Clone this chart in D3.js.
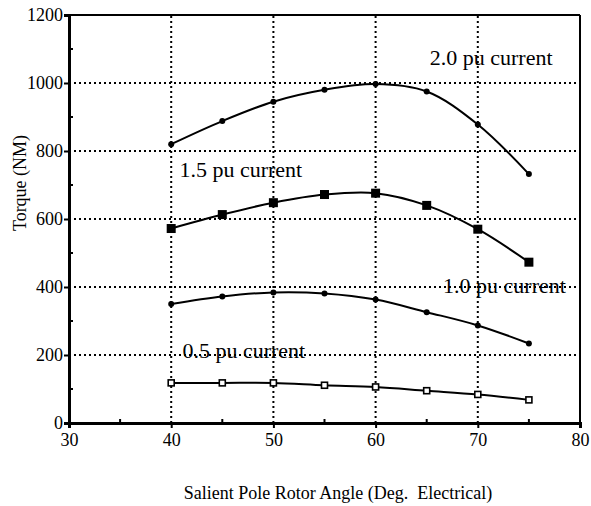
<!DOCTYPE html>
<html>
<head>
<meta charset="utf-8">
<script src="https://cdn.jsdelivr.net/npm/d3@7"></script>
<style>
  body { margin: 0; background: #fff; }
</style>
</head>
<body>
<div id="chart"></div>
<script>
// Data
const angles = [40, 45, 50, 55, 60, 65, 70, 75];
const torque20 = [820, 888, 945, 980, 997, 975, 878, 732];
const torque15 = [572, 613, 648, 672, 676, 640, 570, 473];
const torque10 = [350, 372, 384, 381, 363, 326, 287, 234];
const torque05 = [118, 118, 118, 111, 106, 95, 84, 68];
const xTicks = [30, 40, 50, 60, 70, 80];
const yTicks = [0, 200, 400, 600, 800, 1000, 1200];

const series = [
    { name: "2.0 pu current", values: torque20, marker: "dot" },
    { name: "1.5 pu current", values: torque15, marker: "square" },
    { name: "1.0 pu current", values: torque10, marker: "dot" },
    { name: "0.5 pu current", values: torque05, marker: "open" }
];

const serif = "'Liberation Serif', 'Times New Roman', serif";
const width = 591, height = 506;
const margin = { top: 15, right: 11, bottom: 83, left: 69 };

const svg = d3.select("#chart")
    .append("svg")
    .attr("width", width)
    .attr("height", height)
    .attr("font-family", serif);

const x = d3.scaleLinear().domain([30, 80]).range([margin.left, width - margin.right]);
const y = d3.scaleLinear().domain([0, 1200]).range([height - margin.bottom, margin.top]);

// Dotted grid
svg.append("g")
    .selectAll("line")
    .data(xTicks.slice(1, -1))
    .join("line")
    .attr("x1", d => x(d)).attr("x2", d => x(d))
    .attr("y1", y(0)).attr("y2", y(1200))
    .attr("stroke", "#000").attr("stroke-width", 2)
    .attr("stroke-dasharray", "2,3");

svg.append("g")
    .selectAll("line")
    .data(yTicks.slice(1, -1))
    .join("line")
    .attr("x1", x(30)).attr("x2", x(80))
    .attr("y1", d => y(d)).attr("y2", d => y(d))
    .attr("stroke", "#000").attr("stroke-width", 2)
    .attr("stroke-dasharray", "2,3");

// Frame
svg.append("line") // top
    .attr("x1", x(30)).attr("x2", x(80)).attr("y1", y(1200)).attr("y2", y(1200))
    .attr("stroke", "#000").attr("stroke-width", 2);
svg.append("line") // right
    .attr("x1", x(80)).attr("x2", x(80)).attr("y1", y(1200)).attr("y2", y(0))
    .attr("stroke", "#000").attr("stroke-width", 2);

// Axes
const xAxis = svg.append("g")
    .attr("transform", `translate(0,${y(0)})`)
    .call(d3.axisBottom(x).tickValues(xTicks).tickSize(5).tickPadding(5).tickFormat(d3.format("d")));
const yAxis = svg.append("g")
    .attr("transform", `translate(${x(30)},0)`)
    .call(d3.axisLeft(y).tickValues(yTicks).tickSize(5).tickPadding(1).tickFormat(d3.format("d")));

[xAxis, yAxis].forEach(g => {
    g.attr("font-family", serif).attr("font-size", 18);
    g.select(".domain").attr("stroke-width", 3);
    g.selectAll(".tick line").attr("stroke-width", 2);
    g.selectAll("text").attr("fill", "#000");
});

// Minor ticks pointing inward
svg.append("g")
    .selectAll("line")
    .data(d3.range(35, 80, 10))
    .join("line")
    .attr("x1", d => x(d)).attr("x2", d => x(d))
    .attr("y1", y(0)).attr("y2", y(0) - 4)
    .attr("stroke", "#000").attr("stroke-width", 2);
svg.append("g")
    .selectAll("line")
    .data(d3.range(100, 1200, 200))
    .join("line")
    .attr("x1", x(30)).attr("x2", x(30) + 4)
    .attr("y1", d => y(d)).attr("y2", d => y(d))
    .attr("stroke", "#000").attr("stroke-width", 2);

// Lines
const line = d3.line()
    .x((d, i) => x(angles[i]))
    .y(d => y(d))
    .curve(d3.curveCatmullRom.alpha(0.5));

series.forEach(s => {
    svg.append("path")
        .datum(s.values)
        .attr("fill", "none")
        .attr("stroke", "#000")
        .attr("stroke-width", 2)
        .attr("d", line);

    const g = svg.append("g");
    if (s.marker === "dot") {
        g.selectAll("circle")
            .data(s.values)
            .join("circle")
            .attr("cx", (d, i) => x(angles[i]))
            .attr("cy", d => y(d))
            .attr("r", 3)
            .attr("fill", "#000");
    } else if (s.marker === "square") {
        g.selectAll("rect")
            .data(s.values)
            .join("rect")
            .attr("x", (d, i) => x(angles[i]) - 4.5)
            .attr("y", d => y(d) - 4.5)
            .attr("width", 9).attr("height", 9)
            .attr("fill", "#000");
    } else {
        g.selectAll("rect")
            .data(s.values)
            .join("rect")
            .attr("x", (d, i) => x(angles[i]) - 3)
            .attr("y", d => y(d) - 3)
            .attr("width", 6).attr("height", 6)
            .attr("fill", "#fff")
            .attr("stroke", "#000")
            .attr("stroke-width", 1.6);
    }
});

// Series labels (baseline positions in data units)
const labelPos = [
    { text: "2.0 pu current", lx: 65.3, ly: 1053 },
    { text: "1.5 pu current", lx: 40.8, ly: 724 },
    { text: "1.0 pu current", lx: 66.6, ly: 382 },
    { text: "0.5 pu current", lx: 41.1, ly: 191 }
];
svg.append("g")
    .selectAll("text")
    .data(labelPos)
    .join("text")
    .attr("x", d => x(d.lx))
    .attr("y", d => y(d.ly))
    .attr("font-size", 22)
    .text(d => d.text);

// Axis titles
svg.append("text")
    .attr("transform", `translate(26,183) rotate(-90)`)
    .attr("text-anchor", "middle")
    .attr("font-size", 18)
    .text("Torque (NM)");

svg.append("text")
    .attr("x", 338)
    .attr("y", 499)
    .attr("text-anchor", "middle")
    .attr("font-size", 18)
    .attr("xml:space", "preserve")
    .style("white-space", "pre")
    .text("Salient Pole Rotor Angle (Deg.  Electrical)");
</script>
</body>
</html>
